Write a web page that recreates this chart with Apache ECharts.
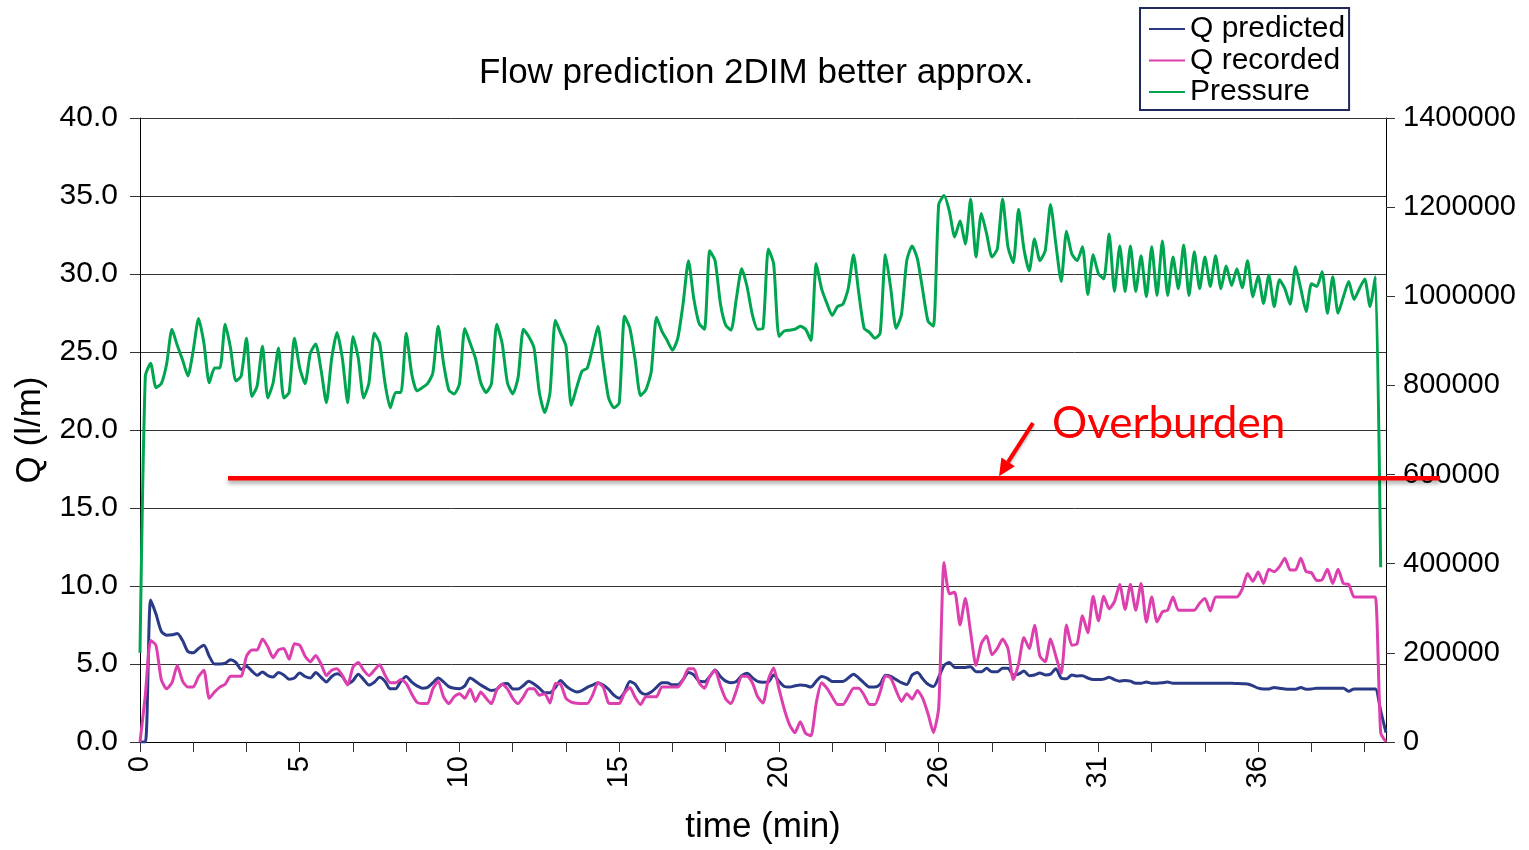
<!DOCTYPE html>
<html><head><meta charset="utf-8">
<script src="https://cdn.jsdelivr.net/npm/echarts@6/dist/echarts.min.js"></script>
<style>html,body{margin:0;padding:0;background:#fff}#c{width:1529px;height:850px}</style>
</head><body><div id="c"></div>
<script>
const tickLabels = ['0','5','10','15','20','26','31','36'];
const qPredicted = [
0,0,9.1,8.2,7.1,6.85,6.87,6.95,6.5,5.8,
5.72,6.0,6.2,5.5,5.0,5.0,5.05,5.28,5.1,4.65,
4.85,4.55,4.28,4.48,4.26,4.17,4.45,4.3,4.02,4.1,
4.43,4.2,4.1,4.45,4.15,3.85,4.2,4.37,4.2,3.75,
3.94,4.35,4.0,3.65,3.83,4.15,3.9,3.41,3.41,3.9,
4.2,3.85,3.6,3.45,3.5,3.8,4.1,3.85,3.55,3.45,
3.42,3.6,4.1,3.9,3.65,3.45,3.3,3.38,3.7,3.75,
3.4,3.4,3.62,3.9,3.72,3.45,3.16,3.16,3.5,3.95,
3.6,3.35,3.2,3.3,3.5,3.65,3.8,3.65,3.38,3.0,
2.8,3.2,3.88,3.7,3.2,3.05,3.2,3.5,3.8,3.8,
3.67,3.67,4.0,4.45,4.3,3.9,3.86,4.2,4.62,4.2,
3.9,3.8,3.88,4.25,4.4,4.12,3.88,3.83,3.85,4.3,
3.9,3.56,3.52,3.6,3.65,3.62,3.52,3.9,4.2,4.1,
3.88,3.88,3.88,4.1,4.35,4.1,3.78,3.52,3.52,3.7,
4.28,4.2,4.0,3.8,3.68,4.3,4.45,4.05,3.7,3.55,
4.15,4.9,5.1,4.78,4.77,4.78,4.83,4.5,4.5,4.72,
4.5,4.5,4.73,4.73,4.3,4.35,4.55,4.25,4.3,4.42,
4.3,4.35,4.7,4.1,4.05,4.3,4.23,4.25,4.1,4.0,
4.0,4.03,4.15,4.0,3.9,3.95,3.9,3.77,3.77,3.85,
3.77,3.77,3.8,3.85,3.77,3.77,3.77,3.77,3.77,3.77,
3.77,3.77,3.77,3.77,3.76,3.76,3.75,3.74,3.72,3.6,
3.45,3.4,3.4,3.5,3.45,3.4,3.38,3.38,3.5,3.38,
3.4,3.45,3.45,3.45,3.45,3.45,3.45,3.25,3.4,3.4,
3.4,3.4,3.4,2.0,0.6
];
const qRecorded = [
0,3.0,6.5,6.2,4.0,3.41,3.8,4.9,3.9,3.52,
3.52,4.2,4.6,2.8,3.2,3.52,3.7,4.22,4.22,4.22,
5.5,5.9,5.9,6.6,6.1,5.4,5.9,6.0,5.3,6.3,
6.2,5.5,5.15,5.55,5.0,4.26,4.6,4.7,4.26,3.65,
4.8,5.1,4.6,4.26,4.6,4.95,4.3,3.8,3.8,4.0,
3.75,3.1,2.55,2.46,2.46,3.4,3.9,2.9,2.46,2.9,
3.1,2.8,3.4,2.6,3.2,2.8,2.46,3.35,3.7,3.41,
2.8,2.46,2.9,3.41,3.41,3.0,3.1,2.5,3.75,3.7,
2.8,2.56,2.48,2.46,2.46,3.0,3.8,3.52,2.5,2.46,
2.46,3.15,3.5,2.85,2.4,2.9,2.9,2.9,3.52,3.52,
3.52,3.52,4.0,4.7,4.7,3.8,3.45,4.2,4.6,3.6,
2.75,2.46,3.3,4.22,4.22,3.8,2.9,2.5,4.0,4.75,
3.4,2.1,1.1,0.6,1.3,0.55,0.4,2.5,3.8,3.45,
2.9,2.4,2.4,2.9,3.45,3.45,3.0,2.4,2.4,3.2,
4.24,4.1,3.3,2.6,3.1,2.75,3.3,2.8,1.8,0.6,
2.2,11.5,9.5,9.6,7.5,9.2,7.0,4.9,6.3,6.8,
5.6,6.0,6.6,6.0,4.0,5.0,6.7,6.0,7.48,5.5,
5.15,6.6,5.5,4.4,7.5,6.2,6.3,8.1,7.0,9.35,
7.76,9.35,8.54,9.0,10.09,8.5,10.1,8.45,10.16,7.7,
9.3,7.7,8.34,8.45,9.3,8.45,8.45,8.45,8.45,8.9,
9.2,8.4,9.3,9.3,9.3,9.3,9.3,9.8,10.8,10.3,
10.9,10.16,11.07,10.92,11.24,11.78,11.03,11.03,11.78,10.92,
10.85,10.35,10.4,11.07,10.16,11.07,10.16,10.1,9.3,9.3,
9.3,9.3,9.3,0.6,0
];
const pressure = [
200000,821000,850000,795000,804000,848000,926000,890000,857000,821000,
879000,950000,895000,806000,839000,839000,937000,884000,810000,821000,
906000,775000,799000,888000,772000,806000,884000,772000,784000,906000,
839000,804000,873000,893000,835000,761000,861000,919000,861000,761000,
910000,861000,772000,806000,917000,895000,806000,750000,784000,784000,
917000,828000,788000,795000,804000,828000,933000,850000,790000,781000,
804000,928000,895000,861000,806000,784000,804000,937000,895000,806000,
781000,817000,926000,910000,884000,784000,739000,784000,946000,917000,
888000,755000,795000,832000,839000,884000,933000,850000,772000,750000,
761000,955000,928000,857000,777000,790000,830000,953000,922000,901000,
879000,906000,984000,1080000,995000,939000,926000,1102000,1080000,984000,
935000,924000,995000,1062000,1022000,959000,926000,928000,1106000,1073000,
910000,922000,924000,926000,933000,926000,901000,1073000,1017000,984000,
957000,977000,982000,1017000,1093000,1006000,928000,919000,906000,917000,
1093000,1017000,928000,959000,1080000,1113000,1084000,1013000,944000,933000,
1206000,1226000,1191000,1133000,1169000,1117000,1218000,1088000,1186000,1140000,
1088000,1106000,1218000,1111000,1075000,1195000,1106000,1057000,1129000,1080000,
1102000,1206000,1117000,1033000,1146000,1095000,1080000,1111000,1004000,1093000,
1051000,1039000,1140000,1011000,1113000,1011000,1113000,1011000,1091000,999000,
1111000,1002000,1124000,1002000,1088000,1017000,1115000,1002000,1100000,1017000,
1088000,1022000,1091000,1017000,1068000,1024000,1062000,1019000,1080000,999000,
1046000,984000,1048000,977000,1037000,1017000,982000,1066000,1017000,966000,
1028000,1022000,1055000,962000,1044000,962000,999000,1033000,993000,1017000,
1039000,977000,1044000,392000,null
];
const overburden = 592000;
const categories = qPredicted.map((_, i) => String(i));

const FONT = '"Liberation Sans", Arial, Helvetica, sans-serif';
const chart = echarts.init(document.getElementById('c'), null, {renderer: 'canvas'});
const lineStyle = (c) => ({color: c, width: 3});
chart.setOption({
  animation: false,
  backgroundColor: '#fff',
  title: {
    text: 'Flow prediction 2DIM better approx.',
    left: 474, top: 51,
    textStyle: {fontFamily: FONT, fontSize: 35, fontWeight: 'normal', color: '#000'}
  },
  legend: {
    orient: 'vertical', left: 1140, top: 8,
    icon: 'rect', itemWidth: 36, itemHeight: 2, itemGap: 1.5,
    padding: [6, 4, 3, 9],
    borderColor: '#1f2a5c', borderWidth: 2,
    textStyle: {fontFamily: FONT, fontSize: 30, color: '#000', lineHeight: 30},
    data: ['Q predicted', 'Q recorded', 'Pressure']
  },
  grid: {left: 140, right: 143, top: 118, bottom: 103, containLabel: false},
  xAxis: {
    type: 'category', data: categories, boundaryGap: false,
    name: 'time (min)', nameLocation: 'middle', nameGap: 68,
    nameTextStyle: {fontFamily: FONT, fontSize: 35, color: '#000'},
    axisLine: {lineStyle: {color: '#000', width: 1}},
    axisTick: {show: true, interval: 9, length: 10, lineStyle: {color: '#333'}},
    axisLabel: {
      interval: 29, rotate: 90, margin: 14,
      fontFamily: FONT, fontSize: 29, color: '#000',
      formatter: (v) => { const k = Number(v) / 30; return tickLabels[k] !== undefined ? tickLabels[k] : ''; }
    },
    splitLine: {show: false}
  },
  yAxis: [
    {
      type: 'value', min: 0, max: 40, interval: 5,
      name: 'Q (l/m)', nameLocation: 'middle', nameGap: 92, nameRotate: 90,
      nameTextStyle: {fontFamily: FONT, fontSize: 35, color: '#000'},
      axisLine: {show: true, lineStyle: {color: '#000', width: 1}},
      axisTick: {show: true, length: 10, lineStyle: {color: '#333'}},
      axisLabel: {margin: 22, fontFamily: FONT, fontSize: 30, color: '#000', formatter: (v) => v.toFixed(1)},
      splitLine: {show: true, lineStyle: {color: '#333', width: 1}}
    },
    {
      type: 'value', min: 0, max: 1400000, interval: 200000, position: 'right',
      axisLine: {show: true, lineStyle: {color: '#000', width: 1}},
      axisTick: {show: true, length: 9, lineStyle: {color: '#333'}},
      axisLabel: {margin: 17, fontFamily: FONT, fontSize: 29, color: '#000', formatter: (v) => String(v)},
      splitLine: {show: false}
    }
  ],
  series: [
    {name: 'Q predicted', type: 'line', data: qPredicted, yAxisIndex: 0, showSymbol: false, symbol: 'none', smooth: 0.25, lineStyle: lineStyle('#2b3a87'), itemStyle: {color: '#2b3a87'}},
    {name: 'Q recorded', type: 'line', data: qRecorded, yAxisIndex: 0, showSymbol: false, symbol: 'none', smooth: 0.2, lineStyle: lineStyle('#dc3fae'), itemStyle: {color: '#dc3fae'}},
    {name: 'Pressure', type: 'line', data: pressure, yAxisIndex: 1, showSymbol: false, symbol: 'none', smooth: 0.2, connectNulls: false, lineStyle: lineStyle('#00a550'), itemStyle: {color: '#00a550'}}
  ]
});

const yO = chart.convertToPixel({yAxisIndex: 1}, overburden);
const tip = [999, yO - 2];
const tail = [1033, 423];
const dx = tip[0] - tail[0], dy = tip[1] - tail[1];
const L = Math.hypot(dx, dy), ux = dx / L, uy = dy / L;
const hb = [tip[0] - 17 * ux, tip[1] - 17 * uy];
const px = -uy, py = ux;
chart.setOption({
  graphic: [
    {type: 'line', z: 100, shape: {x1: 228, y1: yO, x2: 1440, y2: yO},
     style: {stroke: '#ff0000', lineWidth: 4.5, shadowBlur: 4, shadowOffsetY: 3, shadowColor: 'rgba(0,0,0,0.35)'}},
    {type: 'line', z: 100, shape: {x1: tail[0], y1: tail[1], x2: hb[0], y2: hb[1]},
     style: {stroke: '#ff0000', lineWidth: 4, shadowBlur: 3, shadowOffsetY: 2, shadowColor: 'rgba(0,0,0,0.3)'}},
    {type: 'polygon', z: 100, shape: {points: [tip, [hb[0] + 8 * px, hb[1] + 8 * py], [hb[0] - 8 * px, hb[1] - 8 * py]]},
     style: {fill: '#ff0000'}},
    {type: 'text', z: 100, x: 1052, y: 402,
     style: {text: 'Overburden', fill: '#ff0000', font: '44px Lato, "Open Sans", sans-serif', textVerticalAlign: 'top'}}
  ]
});
</script>
</body></html>
